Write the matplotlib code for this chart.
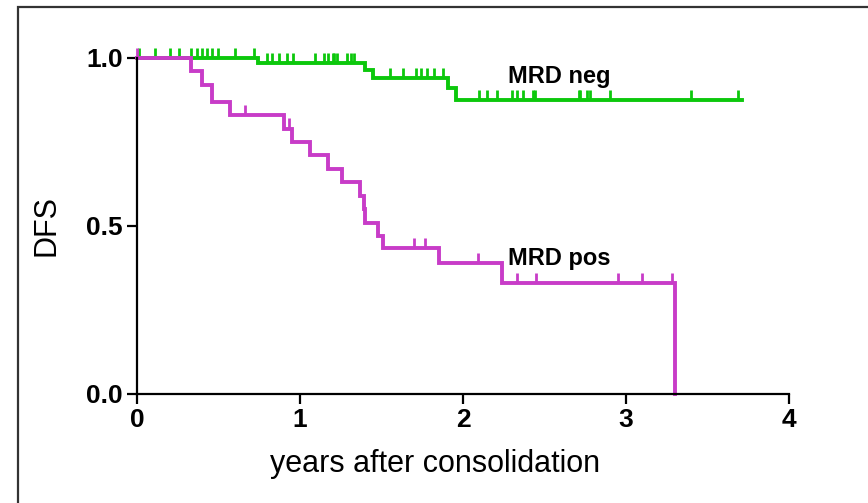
import numpy as np
from matplotlib import pyplot as plt
from matplotlib.patches import Rectangle

# Kaplan-Meier steps: (time, survival after the event)
neg_times = [0.74, 1.40, 1.45, 1.91, 1.96]
neg_surv = [0.985, 0.965, 0.94, 0.91, 0.875]
neg_end = 3.71
neg_censor = [0.01, 0.11, 0.20, 0.26, 0.33, 0.37, 0.40, 0.43, 0.46, 0.50,
              0.60, 0.72, 0.80, 0.83, 0.87, 0.92, 0.96, 1.09, 1.15, 1.17,
              1.20, 1.21, 1.23, 1.29, 1.31, 1.33, 1.55, 1.63, 1.71, 1.74,
              1.78, 1.82, 1.88, 2.10, 2.15, 2.21, 2.30, 2.33, 2.37, 2.43,
              2.44, 2.71, 2.72, 2.76, 2.78, 2.90, 3.40, 3.69]

pos_times = [0.33, 0.40, 0.46, 0.57, 0.90, 0.95, 1.06, 1.17, 1.26, 1.37,
             1.39, 1.40, 1.48, 1.51, 1.85, 2.24, 3.30]
pos_surv = [0.96, 0.92, 0.87, 0.83, 0.79, 0.75, 0.71, 0.67, 0.63, 0.59,
            0.55, 0.51, 0.47, 0.435, 0.39, 0.33, 0.0]
pos_end = 3.30
pos_censor = [0.0, 0.66, 0.93, 1.70, 1.77, 2.09, 2.33, 2.45, 2.95, 3.10, 3.28]

green = '#0cc80c'
magenta = '#c83cc8'


def km_curve(ax, times, surv, end, censor, color):
    xs = np.concatenate([[0], times, [end]])
    ys = np.concatenate([[1.0], surv, [surv[-1]]])
    ax.step(xs, ys, where='post', color=color, lw=2.8, clip_on=False,
            solid_joinstyle='miter')
    levels = ys[np.searchsorted(xs, censor, side='right') - 1]
    ax.vlines(censor, levels, levels + 0.03, color=color, lw=2.0,
              clip_on=False)


fig = plt.figure(figsize=(8.68, 5.03), dpi=100)
ax = fig.add_axes([0.1578, 0.2167, 0.7512, 0.668])

km_curve(ax, neg_times, neg_surv, neg_end, neg_censor, green)
km_curve(ax, pos_times, pos_surv, pos_end, pos_censor, magenta)

ax.set_xlim(0, 4)
ax.set_ylim(0, 1)
ax.set_xticks([0, 1, 2, 3, 4])
ax.set_yticks([0.0, 0.5, 1.0])
ax.set_yticklabels(['0.0', '0.5', '1.0'])
for s in ('top', 'right'):
    ax.spines[s].set_visible(False)
for s in ('left', 'bottom'):
    ax.spines[s].set_linewidth(1.6)
ax.tick_params(direction='out', length=7, width=1.6, pad=3)
for lab in ax.get_xticklabels() + ax.get_yticklabels():
    lab.set_fontfamily('Liberation Sans')
    lab.set_fontweight('bold')
    lab.set_fontsize(19)

ax.set_ylabel('DFS', fontsize=22, family='Liberation Sans', labelpad=18)
ax.set_xlabel('years after consolidation', fontsize=22,
              family='Liberation Sans')
ax.xaxis.set_label_coords(0.457, -0.165)

ax.text(2.276, 0.926, 'MRD neg', fontsize=17, fontweight='bold',
        family='Liberation Sans', va='baseline', ha='left')
ax.text(2.276, 0.384, 'MRD pos', fontsize=17, fontweight='bold',
        family='Liberation Sans', va='baseline', ha='left')

fig.add_artist(Rectangle((18 / 868, -0.1), 1.2, 1.1 - 7 / 503,
                         transform=fig.transFigure, fill=False,
                         edgecolor='#333333', lw=1.6))

fig.savefig('out.png', dpi=100)
